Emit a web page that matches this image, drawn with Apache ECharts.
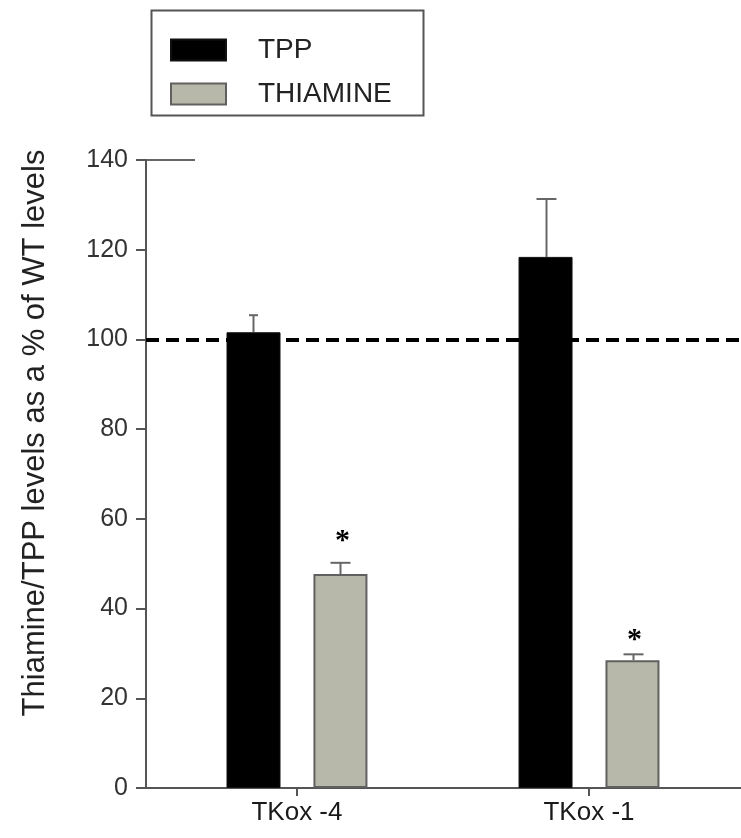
<!DOCTYPE html>
<html>
<head>
<meta charset="utf-8">
<script src="https://cdn.jsdelivr.net/npm/echarts@6/dist/echarts.min.js"></script>
<style>
html,body{margin:0;padding:0;background:#fff;}
#chart{width:741px;height:838px;}
</style>
</head>
<body>
<div id="chart"></div>
<script>
// ---- data ----
const categories = ['TKox -4', 'TKox -1'];
const seriesNames = ['TPP', 'THIAMINE'];
const tppValues = [101.6, 118.4];
const tppErrTop = [105.4, 131.3];
const thiamineValues = [47.7, 28.5];
const thiamineErrTop = [50.2, 29.8];
const sigLabels = ['*', '*'];
const sigPositions = [56.4, 34.3];
const refLineValue = 100;
const yMin = 0, yMax = 140, yInterval = 20;
const yTitle = 'Thiamine/TPP levels as a % of WT levels';

// ---- style ----
const FONT = 'Liberation Sans, Arial, sans-serif';
const BAR_W = 54;
const BAR_GAP = '61%';
const HALF_OFF = 43.5;
const capWidths = { TPP: [9, 20], THIAMINE: [20, 20] };

const chart = echarts.init(document.getElementById('chart'), null, { renderer: 'canvas' });

function errSeries(name, vals, tops, offset) {
  return {
    type: 'custom',
    name: name + ' err',
    z: 1,
    silent: true,
    data: vals.map((v, i) => [i, v, tops[i]]),
    renderItem: function (params, api) {
      const idx = api.value(0);
      const p0 = api.coord([idx, api.value(1)]);
      const p1 = api.coord([idx, api.value(2)]);
      const x = Math.round(p0[0] + offset) + 0.5;
      const cw = capWidths[name][params.dataIndex];
      const st = { stroke: '#666', lineWidth: 2 };
      return {
        type: 'group',
        children: [
          { type: 'line', shape: { x1: x, y1: p0[1], x2: x, y2: p1[1] }, style: st },
          { type: 'line', shape: { x1: x - cw / 2, y1: p1[1], x2: x + cw / 2, y2: p1[1] }, style: st }
        ]
      };
    }
  };
}

const option = {
  animation: false,
  backgroundColor: '#fff',
  grid: { left: 146, right: 0, top: 160, bottom: 50 },
  legend: {
    orient: 'vertical',
    left: 165,
    top: 31,
    itemWidth: 55,
    itemHeight: 21,
    itemGap: 16,
    icon: 'rect',
    data: seriesNames,
    selectedMode: false,
    textStyle: { fontFamily: FONT, fontSize: 28, color: '#222', padding: [0, 0, 0, 27] }
  },
  graphic: [
    {
      type: 'rect',
      left: 149, top: 8,
      shape: { width: 272, height: 105 },
      style: { fill: 'none', stroke: '#555', lineWidth: 2 },
      z: 0
    },
    {
      type: 'line',
      shape: { x1: 146, y1: 160, x2: 195, y2: 160 },
      style: { stroke: '#666', lineWidth: 2 },
      z: 0
    },
    {
      type: 'text',
      x: 35,
      y: 433,
      rotation: Math.PI / 2,
      style: {
        text: yTitle,
        fill: '#222',
        font: '31px "Liberation Sans", Arial, sans-serif',
        align: 'center',
        verticalAlign: 'middle'
      }
    }
  ],
  xAxis: {
    type: 'value',
    min: -0.517,
    max: 1.5205,
    position: 'bottom',
    splitLine: { show: false },
    axisLine: { show: true, onZero: false, lineStyle: { color: '#555', width: 2 } },
    axisTick: { show: true, customValues: [0, 1], length: 8, lineStyle: { color: '#555', width: 2 } },
    axisLabel: {
      customValues: [0, 1],
      formatter: function (v) { return categories[Math.round(v)]; },
      fontFamily: FONT, fontSize: 26, color: '#1a1a1a', margin: 12
    }
  },
  yAxis: {
    type: 'value',
    min: yMin, max: yMax, interval: yInterval,
    position: 'left',
    splitLine: { show: false },
    axisLine: { show: true, onZero: false, lineStyle: { color: '#555', width: 2 } },
    axisTick: { show: true, length: 10, lineStyle: { color: '#555', width: 2 } },
    axisLabel: { fontFamily: FONT, fontSize: 25, color: '#333', margin: 18 }
  },
  series: [
    {
      name: seriesNames[0],
      type: 'bar',
      barWidth: BAR_W,
      barGap: BAR_GAP,
      z: 2,
      itemStyle: { color: '#000', borderColor: '#111', borderWidth: 1 },
      data: tppValues.map((v, i) => [i, v]),
      markLine: {
        silent: true,
        symbol: 'none',
        label: { show: false },
        lineStyle: { color: '#000', width: 4, type: [13, 7] },
        data: [{ yAxis: refLineValue }]
      }
    },
    {
      name: seriesNames[1],
      type: 'bar',
      barWidth: BAR_W,
      barGap: BAR_GAP,
      z: 2,
      itemStyle: { color: '#b8b8aa', borderColor: '#606060', borderWidth: 2 },
      data: thiamineValues.map((v, i) => [i, v])
    },
    errSeries('TPP', tppValues, tppErrTop, -HALF_OFF),
    errSeries('THIAMINE', thiamineValues, thiamineErrTop, HALF_OFF),
    {
      type: 'custom',
      name: 'sig',
      silent: true,
      z: 3,
      data: sigPositions.map((v, i) => [i, v]),
      renderItem: function (params, api) {
        const p = api.coord([api.value(0), api.value(1)]);
        return {
          type: 'text',
          x: p[0] + HALF_OFF + 2,
          y: p[1] + 6,
          style: {
            text: sigLabels[params.dataIndex],
            fill: '#000',
            font: 'bold 30px "Liberation Serif", "Times New Roman", serif',
            align: 'center',
            verticalAlign: 'middle'
          }
        };
      }
    }
  ]
};
chart.setOption(option);
</script>
</body>
</html>
